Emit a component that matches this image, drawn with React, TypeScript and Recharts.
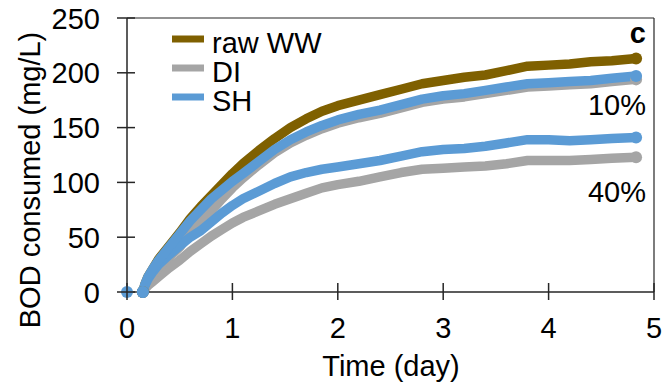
import React from "react";
import {
  ComposedChart,
  Line,
  XAxis,
  YAxis,
  ReferenceLine,
  ReferenceDot,
  Customized,
} from "recharts";

// time (day) of each reading
const time = [0.15, 0.17, 0.2, 0.25, 0.3, 0.4, 0.5, 0.6, 0.7, 0.8, 0.9, 1.0, 1.1, 1.25, 1.4, 1.55, 1.7, 1.85, 2.0, 2.2, 2.4, 2.6, 2.8, 3.0, 3.2, 3.4, 3.6, 3.8, 4.0, 4.2, 4.4, 4.6, 4.83];

// BOD consumed (mg/L)
const rawWW = [0, 7, 14, 22, 30, 42, 54, 67, 78, 88, 98, 108, 117, 129, 140, 150, 158, 165, 170, 175, 180, 185, 190, 193, 196, 198, 202, 206, 207, 208, 210, 211, 213];
const di10 = [0, 4, 9, 16, 22, 32, 41, 54, 64, 74, 85, 95, 104, 116, 127, 136, 143, 149, 154, 159, 163, 168, 173, 176, 178, 181, 184, 187, 188, 189, 190, 192, 194];
const sh10 = [0, 7, 14, 22, 29, 41, 53, 65, 75, 85, 93, 101, 108, 119, 130, 139, 146, 152, 157, 162, 166, 171, 176, 179, 181, 184, 187, 190, 191, 192, 193, 195, 197];
const di40 = [0, 3, 6, 10, 14, 22, 29, 37, 44, 51, 57, 63, 68, 74, 80, 85, 90, 95, 98, 101, 105, 109, 112, 113, 114, 115, 117, 120, 120, 120, 121, 122, 123];
const sh40 = [0, 6, 12, 19, 25, 34, 42, 50, 56, 64, 72, 79, 85, 92, 99, 105, 109, 112, 114, 117, 120, 124, 128, 130, 131, 133, 136, 139, 139, 138, 139, 140, 141];

// the lone reading at t = 0
const originPoint = [0, 0];

const xTicks = [0, 1, 2, 3, 4, 5];
const yTicks = [0, 50, 100, 150, 200, 250];

const legendNames = ["raw WW", "DI", "SH"];
const BROWN = "#7F6000";
const GREY = "#A5A5A5";
const BLUE = "#5B9BD5";
const legendColors = [BROWN, GREY, BLUE];

const FONT = "'Liberation Sans', Arial, sans-serif";
const AXIS = "#262626";

const data = time.map((t, i) => ({
  t,
  rawWW: rawWW[i],
  di10: di10[i],
  sh10: sh10[i],
  di40: di40[i],
  sh40: sh40[i],
}));

function XTick({ x, y, payload }: any) {
  return (
    <g>
      <line x1={x} x2={x} y1={y - 9} y2={y + 8} stroke={AXIS} strokeWidth={1.5} />
      <text x={x} y={y + 46} textAnchor="middle" fontSize={29} fontFamily={FONT} fill="#000">
        {payload.value}
      </text>
    </g>
  );
}

function YTick({ x, y, payload }: any) {
  return (
    <g>
      <line x1={x - 10} x2={x + 8} y1={y} y2={y} stroke={AXIS} strokeWidth={1.5} />
      <text x={x - 27} y={y + 10.5} textAnchor="end" fontSize={29} fontFamily={FONT} fill="#000">
        {payload.value}
      </text>
    </g>
  );
}

function endDot(color: string) {
  return (props: any) => {
    const { cx, cy, index } = props;
    if (index !== 0 && index !== time.length - 1) return <g key={index} />;
    return <circle key={index} cx={cx} cy={cy} r={6} fill={color} stroke="none" />;
  };
}

function Annotations() {
  return (
    <g fontFamily={FONT} fill="#000">
      {legendNames.map((name, i) => (
        <g key={name}>
          <line x1={172} x2={204} y1={39 + i * 29} y2={39 + i * 29} stroke={legendColors[i]} strokeWidth={7} />
          <text x={212} y={53 + i * 29} fontSize={29}>{name}</text>
        </g>
      ))}
      <text x={646} y={43} fontSize={29} fontWeight="bold" textAnchor="end">c</text>
      <text x={646} y={115} fontSize={29} textAnchor="end">10%</text>
      <text x={646} y={202} fontSize={29} textAnchor="end">40%</text>
      <text x={391} y={376} fontSize={29} textAnchor="middle">Time (day)</text>
      <text x={40} y={180} fontSize={29} textAnchor="middle" transform="rotate(-90, 40, 180)">
        BOD consumed (mg/L)
      </text>
    </g>
  );
}

export default function App() {
  const lineProps = {
    type: "linear" as const,
    strokeWidth: 9.5,
    strokeLinecap: "round" as const,
    strokeLinejoin: "round" as const,
    isAnimationActive: false,
    legendType: "none" as const,
  };
  return (
    <div style={{ position: "absolute", left: 0, top: 0, background: "#fff" }}>
      <ComposedChart width={666} height={383} data={data} margin={{ top: 18, right: 12, bottom: 0, left: 0 }}>
        <XAxis
          dataKey="t"
          type="number"
          domain={[0, 5]}
          ticks={xTicks}
          height={91}
          stroke={AXIS}
          strokeWidth={1.5}
          tickLine={false}
          tickSize={0}
          tickMargin={0}
          tick={<XTick />}
          interval={0}
        />
        <YAxis
          type="number"
          domain={[0, 250]}
          ticks={yTicks}
          width={127}
          stroke={AXIS}
          strokeWidth={1.5}
          tickLine={false}
          tickSize={0}
          tickMargin={0}
          tick={<YTick />}
          interval={0}
        />
        <ReferenceLine y={250} stroke={AXIS} strokeWidth={1.2} />
        <ReferenceLine x={5} stroke={AXIS} strokeWidth={1.2} />
        <Line dataKey="di40" stroke={GREY} dot={endDot(GREY)} {...lineProps} />
        <Line dataKey="di10" stroke={GREY} dot={endDot(GREY)} {...lineProps} />
        <Line dataKey="rawWW" stroke={BROWN} dot={endDot(BROWN)} {...lineProps} />
        <Line dataKey="sh40" stroke={BLUE} dot={endDot(BLUE)} {...lineProps} />
        <Line dataKey="sh10" stroke={BLUE} dot={endDot(BLUE)} {...lineProps} />
        <ReferenceDot x={originPoint[0]} y={originPoint[1]} r={6} fill={BLUE} stroke="none" />
        <Customized component={Annotations} />
      </ComposedChart>
    </div>
  );
}
